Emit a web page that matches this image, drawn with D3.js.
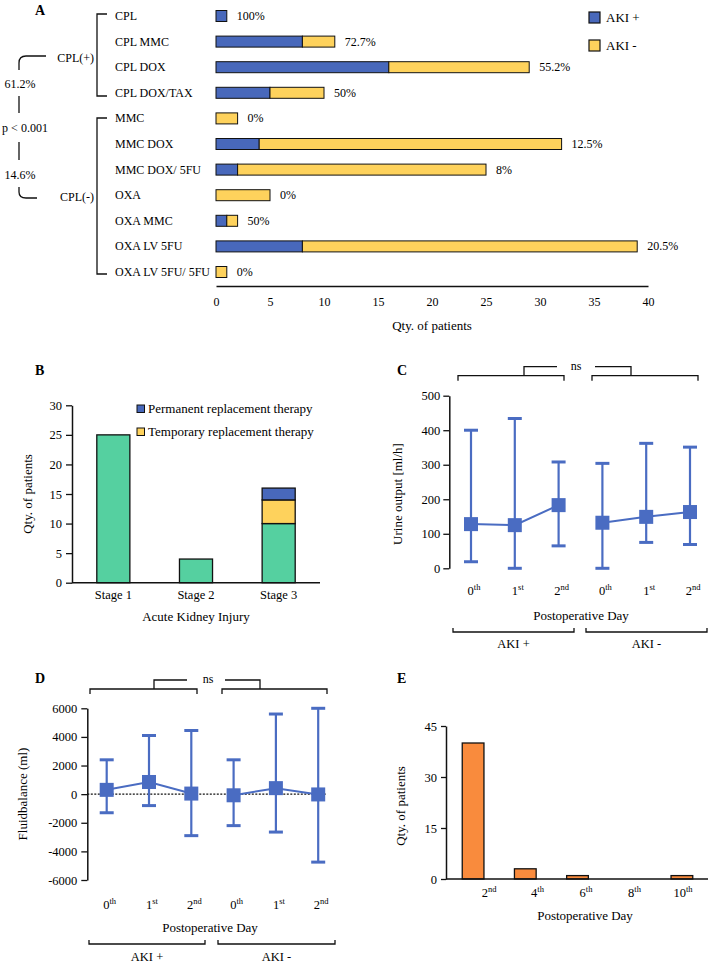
<!DOCTYPE html>
<html><head><meta charset="utf-8">
<script src="https://cdn.jsdelivr.net/npm/d3@7"></script>
<style>body{margin:0;background:#fff}svg{display:block}</style>
</head><body><svg id="c" width="709" height="965"></svg>
<script>
// ---------- DATA ----------
const regimens = ["CPL","CPL MMC","CPL DOX","CPL DOX/TAX","MMC","MMC DOX","MMC DOX/ 5FU","OXA","OXA MMC","OXA LV 5FU","OXA LV 5FU/ 5FU"];
const akiPos = [1,8,16,5,0,4,2,0,1,8,0];
const akiNeg = [0,3,13,5,2,28,23,5,1,31,1];
const akiPct = ["100%","72.7%","55.2%","50%","0%","12.5%","8%","0%","50%","20.5%","0%"];
const ticksA = [0,5,10,15,20,25,30,35,40];

const stages = ["Stage 1","Stage 2","Stage 3"];
const noRRT = [25,4,10];
const tempRRT = [0,0,4];
const permRRT = [0,0,2];
const ticksB = [0,5,10,15,20,25,30];

const dayBase = ["0","1","2","0","1","2"];
const daySup = ["th","st","nd","th","st","nd"];
const urineMed = [128,125,183,132,149,163];
const urineMin = [19,0,65,0,75,69];
const urineMax = [400,434,308,304,362,351];
const ticksC = [0,100,200,300,400,500];

const fluidMed = [300,850,40,-80,420,-20];
const fluidMin = [-1300,-800,-2900,-2200,-2650,-4750];
const fluidMax = [2400,4100,4450,2400,5600,6000];
const ticksD = [-6000,-4000,-2000,0,2000,4000,6000];

const rrtBase = ["2","4","6","8","10"];
const rrtSup = ["nd","th","th","th","th"];
const rrtCount = [40,3,1,0,1];
const ticksE = [0,15,30,45];

// ---------- STYLE ----------
const FONT = "Liberation Serif";
const BLUE = "#4868bb", YEL = "#fed25c", GREEN = "#55d0a0", ORANGE = "#f98b3d", LBLUE = "#4a6cc2";
const svg = d3.select("#c");
svg.append("rect").attr("width",709).attr("height",965).attr("fill","#fff");

function txt(g, x, y, s, opts={}) {
  const t = g.append("text").attr("x", x).attr("y", y).text(s)
    .attr("font-family", FONT).attr("font-size", opts.size || 12).attr("fill", "#000");
  if (opts.anchor) t.attr("text-anchor", opts.anchor);
  if (opts.bold) t.attr("font-weight", "bold");
  if (opts.rot) t.attr("transform", `rotate(-90,${x},${y})`);
  return t;
}
function line(g, pts, w=1.3, color="#111") {
  g.append("path").attr("d", d3.line()(pts)).attr("fill","none").attr("stroke",color).attr("stroke-width",w);
}
function supLabel(g, x, y, base, sup, size=12) {
  const t = g.append("text").attr("x", x).attr("y", y).attr("text-anchor","middle")
    .attr("font-family", FONT).attr("font-size", size).attr("fill","#000");
  t.append("tspan").text(base);
  t.append("tspan").text(sup).attr("font-size", size*0.68).attr("dy", -5);
}
function styleAxis(ax) {
  ax.attr("font-family", FONT);
  ax.select(".domain").attr("stroke","#111").attr("stroke-width",1.5);
  ax.selectAll(".tick line").attr("stroke","#111").attr("stroke-width",1.3);
  ax.selectAll("text").attr("font-size",12.5).attr("font-family",FONT).attr("fill","#000");
}
const plain = d => String(d);

// ================= PANEL A =================
const gA = svg.append("g");
txt(gA, 35, 15, "A", {size:14, bold:true});
const xA = d3.scaleLinear().domain([0,40]).range([216,648]);
const yA = d3.scalePoint().domain(regimens).range([16,272]);
const bhA = 11;
regimens.forEach((r,i) => {
  const y = yA(r) - bhA/2;
  if (akiPos[i] > 0) gA.append("rect").attr("x", xA(0)).attr("y", y).attr("width", xA(akiPos[i])-xA(0)).attr("height", bhA)
    .attr("fill", BLUE).attr("stroke","#111").attr("stroke-width",1);
  if (akiNeg[i] > 0) gA.append("rect").attr("x", xA(akiPos[i])).attr("y", y).attr("width", xA(akiPos[i]+akiNeg[i])-xA(akiPos[i])).attr("height", bhA)
    .attr("fill", YEL).attr("stroke","#111").attr("stroke-width",1);
  txt(gA, 115, yA(r)+4, r, {size:12});
  txt(gA, xA(akiPos[i]+akiNeg[i]) + 10, yA(r)+4, akiPct[i], {size:12});
});
const axA = gA.append("g").attr("transform","translate(0,286)")
  .call(d3.axisBottom(xA).tickValues(ticksA).tickFormat(plain).tickSize(0).tickPadding(11).tickSizeOuter(0));
styleAxis(axA);
axA.selectAll("text").attr("font-size",12);
txt(gA, 432, 330, "Qty. of patients", {size:13, anchor:"middle"});
// legend A
[["AKI +",BLUE,12],["AKI -",YEL,40]].forEach(([l,c,y]) => {
  gA.append("rect").attr("x",589).attr("y",y).attr("width",11).attr("height",11).attr("fill",c).attr("stroke","#111").attr("stroke-width",1.2);
  txt(gA, 606, y+10, l, {size:13});
});
// brackets
line(gA, [[107,14],[97,14],[97,96],[107,96]]);
line(gA, [[107,118],[97,118],[97,274],[107,274]]);
txt(gA, 94, 62, "CPL(+)", {size:12, anchor:"end"});
txt(gA, 94, 201, "CPL(-)", {size:12, anchor:"end"});
gA.append("path").attr("d","M46,56 L26,56 Q19,56 19,63 L19,70").attr("fill","none").attr("stroke","#111").attr("stroke-width",1.3);
line(gA, [[19,96],[19,113]]);
line(gA, [[19,142],[19,160]]);
gA.append("path").attr("d","M19,187 L19,192 Q19,198 26,198 L37,198").attr("fill","none").attr("stroke","#111").attr("stroke-width",1.3);
txt(gA, 20, 88, "61.2%", {size:12, anchor:"middle"});
txt(gA, 25, 132, "p < 0.001", {size:12, anchor:"middle"});
txt(gA, 20, 179, "14.6%", {size:12, anchor:"middle"});

// ================= PANEL B =================
const gB = svg.append("g");
txt(gB, 35, 375, "B", {size:14, bold:true});
const xB = d3.scaleBand().domain(stages).range([72,320]).paddingInner(0.6).paddingOuter(0.3);
const yB = d3.scaleLinear().domain([0,30]).range([582.7,405.3]);
stages.forEach((s,i) => {
  const segs = [[0,noRRT[i],GREEN],[noRRT[i],noRRT[i]+tempRRT[i],YEL],[noRRT[i]+tempRRT[i],noRRT[i]+tempRRT[i]+permRRT[i],BLUE]];
  segs.forEach(([a,b,c]) => {
    if (b > a) gB.append("rect").attr("x",xB(s)).attr("y",yB(b)).attr("width",xB.bandwidth()).attr("height",yB(a)-yB(b))
      .attr("fill",c).attr("stroke","#111").attr("stroke-width",1.3);
  });
  txt(gB, xB(s)+xB.bandwidth()/2, 599, s, {size:12.5, anchor:"middle"});
});
const ayB = gB.append("g").attr("transform","translate(72,0)").call(d3.axisLeft(yB).tickValues(ticksB).tickFormat(plain).tickSize(6).tickPadding(4).tickSizeOuter(0));
styleAxis(ayB);
line(gB, [[72,582.7],[320,582.7]], 1.5);
txt(gB, 196, 621, "Acute Kidney Injury", {size:13, anchor:"middle"});
txt(gB, 32, 494, "Qty. of patients", {size:13, anchor:"middle", rot:true});
[["Permanent replacement therapy",BLUE,405],["Temporary replacement therapy",YEL,428]].forEach(([l,c,y]) => {
  gB.append("rect").attr("x",137).attr("y",y).attr("width",7.5).attr("height",7.5).attr("fill",c).attr("stroke","#111").attr("stroke-width",1);
  txt(gB, 148, y+8, l, {size:13});
});

// ============ error-bar panels (C, D) ============
function errPanel(g, x0, step, yScale, med, mn, mx) {
  const xs = dayBase.map((d,i) => x0 + i*step);
  [[0,1,2],[3,4,5]].forEach(grp => {
    line(g, grp.map(i => [xs[i], yScale(med[i])]), 2, LBLUE);
  });
  xs.forEach((x,i) => {
    line(g, [[x, yScale(mn[i])],[x, yScale(mx[i])]], 2.2, LBLUE);
    line(g, [[x-7, yScale(mn[i])],[x+7, yScale(mn[i])]], 3, LBLUE);
    line(g, [[x-7, yScale(mx[i])],[x+7, yScale(mx[i])]], 3, LBLUE);
    g.append("rect").attr("x", x-7).attr("y", yScale(med[i])-7).attr("width",14).attr("height",14).attr("fill",LBLUE);
  });
  return xs;
}
function nsBracket(g, y, L, R, stemL, stemR, nsX) {
  const yt = y - 9;
  line(g, [[L[0],y+5],[L[0],y],[L[1],y],[L[1],y+5]]);
  line(g, [[R[0],y+5],[R[0],y],[R[1],y],[R[1],y+5]]);
  line(g, [[stemL[0],y],[stemL[0],yt],[stemL[1],yt]]);
  line(g, [[stemR[0],yt],[stemR[1],yt],[stemR[1],y]]);
  txt(g, nsX, yt+3, "ns", {size:12, anchor:"middle"});
}
function bottomBracket(g, y, L, R, ly) {
  line(g, [[L[0],y-4],[L[0],y],[L[1],y],[L[1],y-4]]);
  line(g, [[R[0],y-4],[R[0],y],[R[1],y],[R[1],y-4]]);
  txt(g, (L[0]+L[1])/2, ly, "AKI +", {size:12.5, anchor:"middle"});
  txt(g, (R[0]+R[1])/2, ly, "AKI -", {size:12.5, anchor:"middle"});
}

// ================= PANEL C =================
const gC = svg.append("g");
txt(gC, 397, 375, "C", {size:14, bold:true});
const yC = d3.scaleLinear().domain([0,500]).range([568.3,395.7]);
const ayC = gC.append("g").attr("transform","translate(449.3,0)").call(d3.axisLeft(yC).tickValues(ticksC).tickFormat(plain).tickSize(6).tickPadding(3).tickSizeOuter(0));
styleAxis(ayC);
const xsC = errPanel(gC, 471, 43.8, yC, urineMed, urineMin, urineMax);
xsC.forEach((x,i) => supLabel(gC, x+3, 595, dayBase[i], daySup[i], 12.5));
txt(gC, 581, 620, "Postoperative Day", {size:13, anchor:"middle"});
txt(gC, 402, 494, "Urine output [ml/h]", {size:13, anchor:"middle", rot:true});
nsBracket(gC, 375.7, [458,564], [592,698], [524,557], [595,631], 576);
bottomBracket(gC, 632, [453,574], [586,707], 648);

// ================= PANEL D =================
const gD = svg.append("g");
txt(gD, 35, 683, "D", {size:14, bold:true});
const yD = d3.scaleLinear().domain([-6000,6000]).range([880,708.3]);
const ayD = gD.append("g").attr("transform","translate(87.3,0)").call(d3.axisLeft(yD).tickValues(ticksD).tickFormat(plain).tickSize(6).tickPadding(4).tickSizeOuter(0));
styleAxis(ayD);
gD.append("line").attr("x1",87.3).attr("x2",326).attr("y1",yD(0)).attr("y2",yD(0))
  .attr("stroke","#111").attr("stroke-width",1.2).attr("stroke-dasharray","2,1.5");
const xsD = errPanel(gD, 106.7, 42.3, yD, fluidMed, fluidMin, fluidMax);
xsD.forEach((x,i) => supLabel(gD, x+3, 909, dayBase[i], daySup[i], 12.5));
txt(gD, 210, 932, "Postoperative Day", {size:13, anchor:"middle"});
txt(gD, 27, 794, "Fluidbalance (ml)", {size:13, anchor:"middle", rot:true});
nsBracket(gD, 689, [90,197], [222,327], [154,187], [225,260], 208);
bottomBracket(gD, 944, [89,205], [218,335], 961);

// ================= PANEL E =================
const gE = svg.append("g");
txt(gE, 397, 683, "E", {size:14, bold:true});
const xE = d3.scaleBand().domain(rrtBase).range([447,708]).paddingInner(0.584).paddingOuter(0.292);
const xEl = d3.scalePoint().domain(rrtBase).range([489,683]);
const yE = d3.scaleLinear().domain([0,45]).range([879,726]);
rrtBase.forEach((d,i) => {
  if (rrtCount[i] > 0) gE.append("rect").attr("x",xE(d)).attr("y",yE(rrtCount[i])).attr("width",xE.bandwidth()).attr("height",yE(0)-yE(rrtCount[i]))
    .attr("fill",ORANGE).attr("stroke","#111").attr("stroke-width",1.3);
  supLabel(gE, xEl(d), 897, d, rrtSup[i], 12.5);
});
const ayE = gE.append("g").attr("transform","translate(446,0)").call(d3.axisLeft(yE).tickValues(ticksE).tickFormat(plain).tickSize(5).tickPadding(4).tickSizeOuter(0));
styleAxis(ayE);
line(gE, [[446,879],[708,879]], 1.5);
txt(gE, 585, 920, "Postoperative Day", {size:13, anchor:"middle"});
txt(gE, 405, 806, "Qty. of patients", {size:13, anchor:"middle", rot:true});
</script></body></html>
